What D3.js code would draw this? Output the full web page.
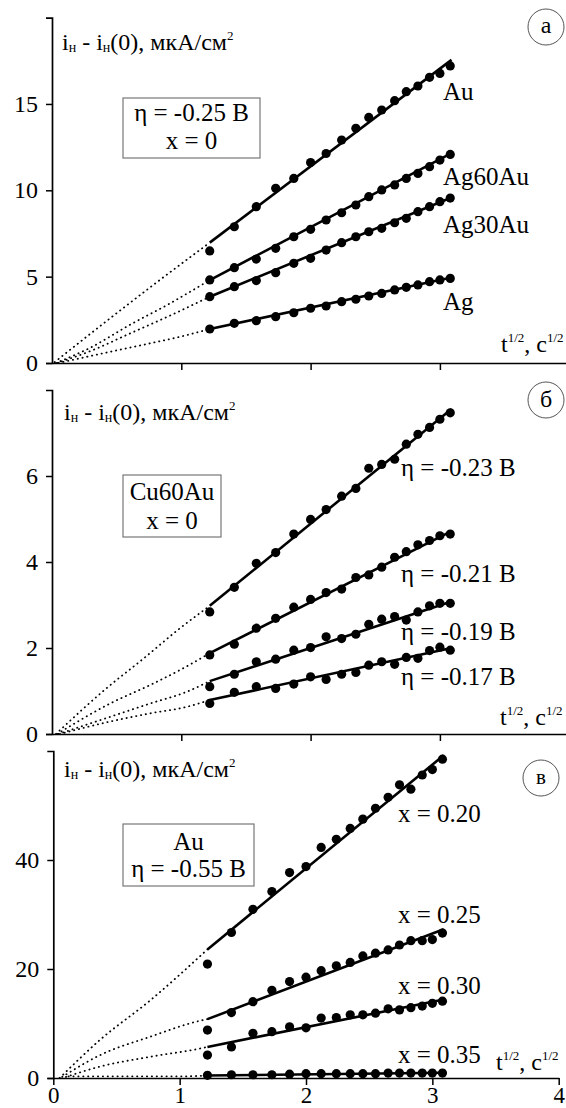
<!DOCTYPE html>
<html><head><meta charset="utf-8">
<script src="https://cdn.jsdelivr.net/npm/d3@7"></script>
<style>
body{margin:0;background:#fff}
svg{display:block}
text{font-family:"Liberation Serif","Times New Roman",serif;fill:#000}
</style>
</head><body>
<svg id="chart" width="566" height="1108"></svg>
<script>
// ---------- data ----------
const sqrtT = [1.22,1.41,1.58,1.73,1.87,2.00,2.12,2.24,2.35,2.45,2.55,2.65,2.74,2.83,2.92,3.00,3.08];
const fitX = [1.22, 3.09];

// panel а
const a_names = ["Au","Ag60Au","Ag30Au","Ag"];
const a_Au     = [6.49,7.89,9.05,10.12,10.69,11.61,12.13,12.91,13.59,14.22,14.65,15.19,15.71,16.04,16.54,16.77,17.20];
const a_Ag60Au = [4.81,5.52,6.02,6.64,7.31,7.74,8.28,8.70,9.15,9.63,10.02,10.31,10.69,10.98,11.37,11.75,12.08];
const a_Ag30Au = [3.84,4.42,4.77,5.23,5.77,6.06,6.54,6.97,7.31,7.60,7.80,8.12,8.38,8.76,9.05,9.34,9.55];
const a_Ag     = [1.97,2.30,2.45,2.68,2.91,3.17,3.30,3.55,3.69,3.88,4.03,4.23,4.38,4.52,4.71,4.81,4.90];
const a_fit = [[6.97,17.55],[4.80,12.15],[3.84,9.58],[1.97,4.95]];
const a_ext = [
  [[0.02,0.05],[0.40,2.30],[0.78,4.50],[1.22,6.97]],
  [[0.03,0.0],[0.30,0.90],[0.60,2.20],[0.90,3.40],[1.22,4.80]],
  [[0.04,0.0],[0.30,0.70],[0.60,1.70],[0.90,2.70],[1.22,3.84]],
  [[0.05,0.0],[0.45,0.65],[0.76,1.14],[0.99,1.52],[1.22,1.97]]
];
const a_yTicks = [0,5,10,15];

// panel б
const b_names = ["η = -0.23 В","η = -0.21 В","η = -0.19 В","η = -0.17 В"];
const b_023 = [2.84,3.41,3.97,4.22,4.65,4.99,5.22,5.53,5.71,6.18,6.27,6.39,6.74,6.97,7.13,7.32,7.47];
const b_021 = [1.84,2.09,2.46,2.69,2.95,3.13,3.29,3.37,3.64,3.70,3.88,4.11,4.24,4.40,4.50,4.61,4.65];
const b_019 = [1.10,1.39,1.68,1.74,1.95,2.01,2.26,2.22,2.32,2.55,2.67,2.73,2.65,2.84,2.98,3.04,3.04];
const b_017 = [0.71,0.97,1.10,1.06,1.16,1.33,1.27,1.39,1.43,1.60,1.68,1.62,1.78,1.76,1.94,2.02,1.95];
const b_fit = [[2.98,7.56],[1.88,4.72],[1.23,3.08],[0.79,2.00]];
const b_ext = [
  [[0.03,0.0],[0.42,1.06],[0.71,1.76],[0.99,2.46],[1.22,2.98]],
  [[0.04,0.0],[0.45,0.71],[0.76,1.14],[1.04,1.57],[1.22,1.88]],
  [[0.05,0.0],[0.45,0.40],[0.76,0.71],[1.04,0.98],[1.22,1.23]],
  [[0.06,0.0],[0.45,0.29],[0.76,0.48],[1.04,0.63],[1.22,0.79]]
];
const b_yTicks = [0,2,4,6];

// panel в
const c_names = ["x = 0.20","x = 0.25","x = 0.30","x = 0.35"];
const c_020 = [20.9,26.7,30.95,34.2,37.7,38.8,42.3,43.8,45.8,47.5,49.5,51.5,53.8,53.0,55.6,56.6,58.5];
const c_025 = [8.8,12.0,14.0,16.1,17.7,18.5,19.7,20.6,21.2,22.4,22.9,23.5,24.4,25.2,25.2,25.4,26.6];
const c_030 = [4.2,5.7,8.2,8.5,9.4,9.2,11.0,11.1,11.6,11.6,11.9,12.7,12.5,12.9,13.2,13.7,14.1];
const c_035 = [0.5,0.6,0.6,0.6,0.7,0.8,0.8,0.8,0.8,0.8,0.8,0.9,0.9,0.9,0.9,0.9,0.9];
const c_fit = [[23.6,59.2],[10.8,27.3],[5.7,14.4],[0.45,0.95]];
const c_ext = [
  [[0.05,0.0],[0.37,7.0],[0.77,14.3],[1.22,23.6]],
  [[0.07,0.2],[0.37,4.2],[0.77,7.6],[1.16,10.5],[1.22,10.8]],
  [[0.10,0.2],[0.37,2.1],[0.77,3.9],[1.16,5.4],[1.22,5.7]],
  [[0.12,0.3],[0.60,0.3],[1.00,0.3],[1.22,0.45]]
];
const c_yTicks = [0,20,40];
const c_xTicks = [0,1,2,3,4];

// ---------- drawing ----------
const svg = d3.select("#chart");

function yLabel(g, x0, y0){
  const t = g.append("text").attr("x",x0).attr("y",y0).attr("font-size",24);
  t.append("tspan").text("i");
  t.append("tspan").attr("font-size",14).attr("dy",2).text("н");
  t.append("tspan").attr("dy",-2).text(" - i");
  t.append("tspan").attr("font-size",14).attr("dy",2).text("н");
  t.append("tspan").attr("dy",-2).text("(0), мкА/см");
  t.append("tspan").attr("font-size",13).attr("dy",-10).text("2");
}
function tLabel(g, x0, y0){
  const t = g.append("text").attr("x",x0).attr("y",y0).attr("font-size",24);
  t.append("tspan").text("t");
  t.append("tspan").attr("font-size",13).attr("dy",-10).text("1/2");
  t.append("tspan").attr("dy",10).text(", с");
  t.append("tspan").attr("font-size",13).attr("dy",-10).text("1/2");
}

function panel(cfg){
  const g = svg.append("g");
  const x = d3.scaleLinear().domain([0,4]).range(cfg.xr);
  const y = d3.scaleLinear().domain([0,cfg.ymax]).range(cfg.yr);

  // axes
  const ya = d3.axisLeft(y).tickValues(cfg.yTicks).tickSize(6).tickSizeOuter(6).tickPadding(8);
  const yg = g.append("g").attr("transform",`translate(${cfg.xr[0]},0)`).call(ya);
  const xa = d3.axisBottom(x).tickValues(cfg.xTicks).tickSize(7).tickSizeOuter(0)
      .tickFormat(cfg.xLabels ? d3.format("d") : "");
  const xg = g.append("g").attr("transform",`translate(0,${cfg.yr[0]})`).call(xa);
  [yg,xg].forEach(a=>{
    a.attr("font-family",null).attr("font-size",null);
    a.select(".domain").attr("stroke","#000").attr("stroke-width",1.7);
    a.selectAll(".tick line").attr("stroke","#000").attr("stroke-width",1.5);
    a.selectAll("text").attr("font-size",24).attr("fill","#000");
  });
  xg.selectAll("text").attr("font-size",23).attr("y",24.5).attr("dy",null);

  // dotted extrapolation
  const ln = d3.line().x(d=>x(d[0])).y(d=>y(d[1])).curve(d3.curveMonotoneX);
  cfg.ext.forEach(e=>{
    g.append("path").attr("d",ln(e)).attr("fill","none").attr("stroke","#000")
      .attr("stroke-width",1.8).attr("stroke-linecap","round").attr("stroke-dasharray","0.3,4.6");
  });
  // fit lines
  cfg.fit.forEach(f=>{
    g.append("line").attr("x1",x(fitX[0])).attr("x2",x(fitX[1]))
      .attr("y1",y(f[0])).attr("y2",y(f[1])).attr("stroke","#000").attr("stroke-width",2.6);
  });
  // dots
  cfg.series.forEach(s=>{
    g.selectAll(null).data(s).enter().append("circle")
      .attr("cx",(d,i)=>x(sqrtT[i])).attr("cy",d=>y(d)).attr("r",4.6).attr("fill","#000");
  });
  // series labels
  cfg.names.forEach((n,i)=>{
    g.append("text").attr("x",cfg.labelX).attr("y",cfg.labelY[i]).attr("font-size",25).text(n);
  });
  // box
  const b = cfg.box;
  g.append("rect").attr("x",b.x).attr("y",b.y).attr("width",b.w).attr("height",b.h)
    .attr("fill","#fff").attr("stroke","#777").attr("stroke-width",1.2);
  b.lines.forEach((l,i)=>{
    g.append("text").attr("x",b.x+b.w/2).attr("y",b.ty[i]).attr("text-anchor","middle")
      .attr("font-size",25).text(l);
  });
  // panel letter
  g.append("circle").attr("cx",cfg.letter.cx).attr("cy",cfg.letter.cy).attr("r",18)
    .attr("fill","#fff").attr("stroke","#555").attr("stroke-width",1);
  g.append("text").attr("x",cfg.letter.cx).attr("y",cfg.letter.cy+cfg.letter.dy)
    .attr("text-anchor","middle").attr("font-size",cfg.letter.fs).text(cfg.letter.t);

  yLabel(g, cfg.yLab[0], cfg.yLab[1]);
  tLabel(g, cfg.tLab[0], cfg.tLab[1]);
}

panel({
  xr:[52,569.2], ymax:20, yr:[363,17.6], yTicks:a_yTicks, xTicks:[1,2,3], xLabels:false,
  series:[a_Au,a_Ag60Au,a_Ag30Au,a_Ag], fit:a_fit, ext:a_ext, names:a_names,
  labelX:443, labelY:[100,185,233,310],
  box:{x:123,y:98,w:137,h:60,lines:["η = -0.25 В","x = 0"],ty:[121,149]},
  letter:{cx:546,cy:27,t:"а",fs:24,dy:6},
  yLab:[62,50], tLab:[501,352]
});
panel({
  xr:[52,569.2], ymax:8, yr:[734,390], yTicks:b_yTicks, xTicks:[1,2,3], xLabels:false,
  series:[b_023,b_021,b_019,b_017], fit:b_fit, ext:b_ext, names:b_names,
  labelX:401, labelY:[476,582,640,685],
  box:{x:123,y:475,w:98,h:62,lines:["Cu60Au","x = 0"],ty:[500,529]},
  letter:{cx:546,cy:400,t:"б",fs:24,dy:7},
  yLab:[64,420], tLab:[500,725]
});
panel({
  xr:[53.3,558.7], ymax:60, yr:[1078,751], yTicks:c_yTicks, xTicks:c_xTicks, xLabels:true,
  series:[c_020,c_025,c_030,c_035], fit:c_fit, ext:c_ext, names:c_names,
  labelX:398, labelY:[822,923,994,1063],
  box:{x:123,y:824,w:131,h:62,lines:["Au","η = -0.55 В"],ty:[850,877]},
  letter:{cx:541,cy:778,t:"в",fs:21,dy:6},
  yLab:[64,777], tLab:[496,1070]
});
</script>
</body></html>
